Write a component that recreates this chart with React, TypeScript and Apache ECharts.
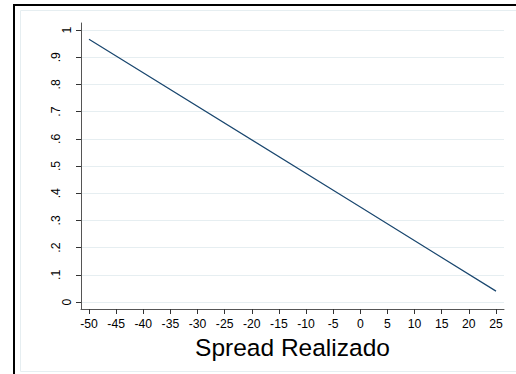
import React, { useEffect, useRef } from "react";
import * as echarts from "echarts";

const spreadValues = [-50, 0, 25];
const probValues = [0.966, 0.349, 0.04];
const xTicks = [-50, -45, -40, -35, -30, -25, -20, -15, -10, -5, 0, 5, 10, 15, 20, 25];
const yTicks = [0, 0.1, 0.2, 0.3, 0.4, 0.5, 0.6, 0.7, 0.8, 0.9, 1];
const yEndTicks = [0, 1];
const yInnerTicks = [0.1, 0.2, 0.3, 0.4, 0.5, 0.6, 0.7, 0.8, 0.9];
const xTitle = "Spread Realizado";

const FONT = "'Liberation Sans', Arial, sans-serif";
const Y_MIN = -0.0257;
const Y_MAX = 1.0257;

function yLabel(v: number): string {
  if (v === 0 || v === 1) return String(v);
  return String(Math.round(v * 10) / 10).replace("0.", ".");
}

export default function App() {
  const ref = useRef<HTMLDivElement>(null);
  useEffect(() => {
    if (!ref.current) return;
    const chart = echarts.init(ref.current, undefined, { renderer: "svg" });
    const data = spreadValues.map((x, i) => [x, probValues[i]]);
    chart.setOption({
      animation: false,
      backgroundColor: "#ffffff",
      textStyle: { fontFamily: FONT },
      graphic: [
        {
          type: "rect",
          shape: { x: 20.5, y: 10.5, width: 1000, height: 361 },
          style: { fill: "none", stroke: "#e6eef1", lineWidth: 1 },
          silent: true,
        },
        {
          type: "rect",
          shape: { x: 14, y: 5, width: 1000, height: 1000 },
          style: { fill: "none", stroke: "#000000", lineWidth: 2 },
          silent: true,
        },
      ],
      grid: { left: 81, right: 12, top: 23, bottom: 65 },
      xAxis: {
        type: "value",
        min: -51.474,
        max: 26.474,
        name: xTitle,
        nameLocation: "middle",
        nameGap: 17,
        nameTextStyle: { fontSize: 24.5, color: "#000", fontFamily: FONT },
        axisLine: { show: true, onZero: false, lineStyle: { color: "#555", width: 1 } },
        axisTick: { show: true, length: 5, customValues: xTicks, lineStyle: { color: "#333" } },
        axisLabel: { customValues: xTicks, fontSize: 12.2, color: "#000", margin: 9, fontFamily: FONT },
        splitLine: { show: false },
      },
      yAxis: [
        {
          type: "value",
          position: "left",
          min: Y_MIN,
          max: Y_MAX,
          axisLine: { show: true, onZero: false, lineStyle: { color: "#555", width: 1 } },
          axisTick: { show: true, length: 5, customValues: yTicks, lineStyle: { color: "#333" } },
          axisLabel: {
            customValues: yEndTicks,
            rotate: 90,
            fontSize: 12.2,
            color: "#000",
            margin: 8,
            fontFamily: FONT,
            formatter: (v: number) => yLabel(v),
          },
          splitLine: { show: true, lineStyle: { color: "#e6eef1", width: 1 } },
        },
        {
          type: "value",
          position: "left",
          offset: 0,
          min: Y_MIN,
          max: Y_MAX,
          axisLine: { show: false },
          axisTick: { show: false, customValues: yInnerTicks },
          axisLabel: {
            customValues: yInnerTicks,
            rotate: 90,
            fontSize: 12.2,
            color: "#000",
            margin: 19,
            fontFamily: FONT,
            formatter: (v: number) => yLabel(v),
          },
          splitLine: { show: false },
        },
      ],
      series: [
        {
          type: "line",
          data,
          yAxisIndex: 0,
          showSymbol: false,
          symbol: "none",
          lineStyle: { color: "#1a476f", width: 1.2 },
        },
      ],
    });
    return () => chart.dispose();
  }, []);
  return (
    <div
      ref={ref}
      style={{ position: "fixed", left: 0, top: 0, width: 516, height: 374 }}
    />
  );
}
